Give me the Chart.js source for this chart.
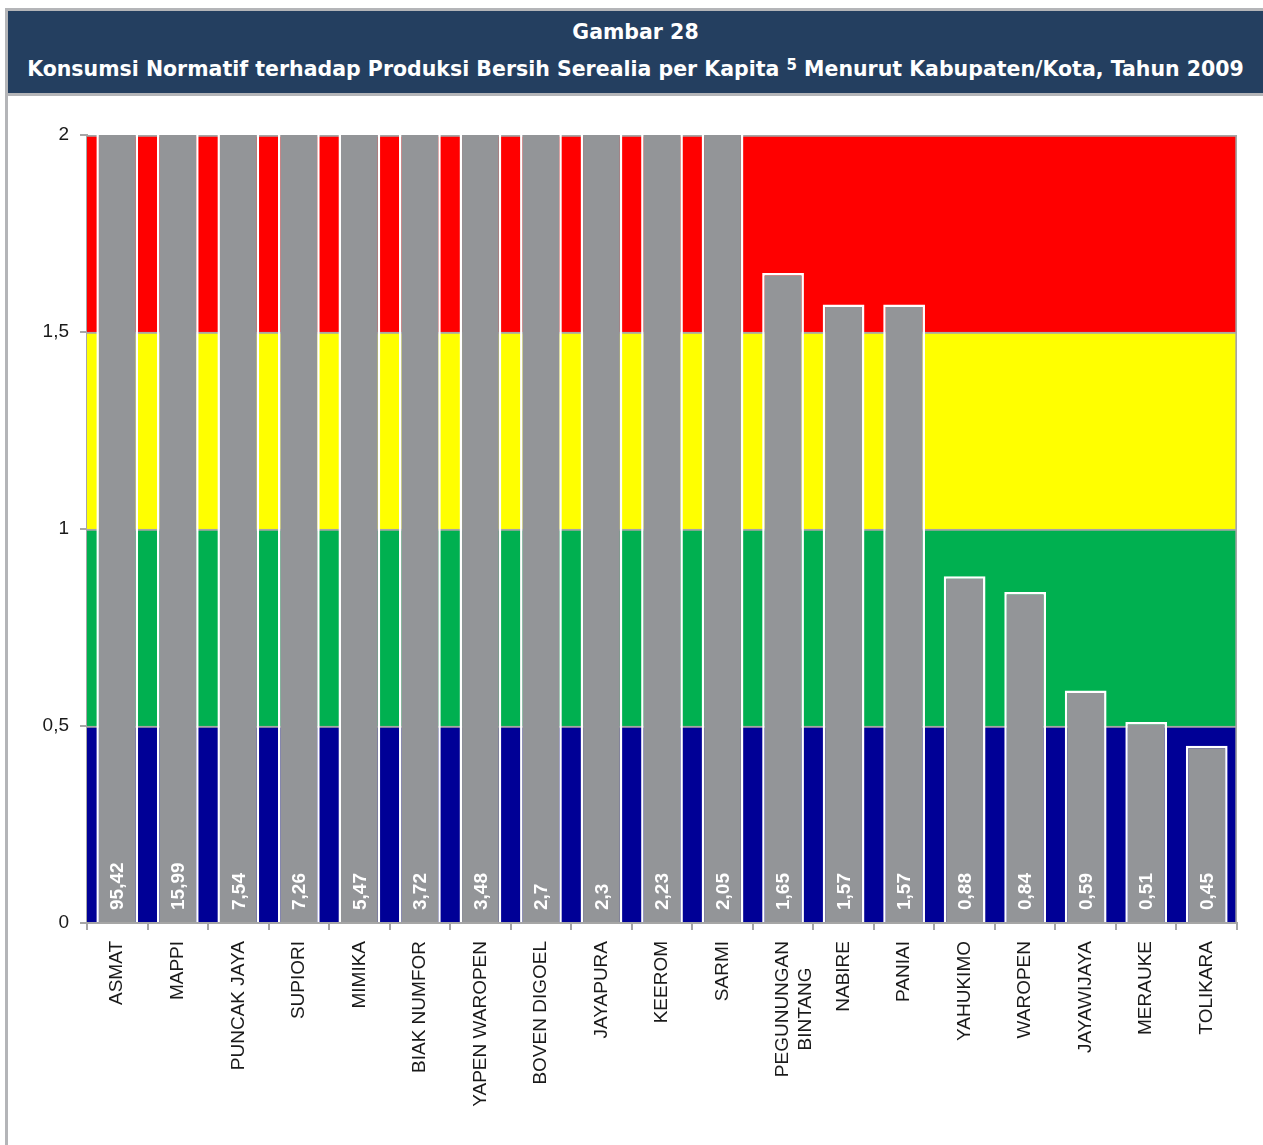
<!DOCTYPE html>
<html>
<head>
<meta charset="utf-8">
<script src="https://cdn.jsdelivr.net/npm/chart.js@4/dist/chart.umd.min.js"></script>
<style>
body { margin: 0; background: #fff; width: 1263px; height: 1145px; overflow: hidden; }
#frame { position: absolute; left: 5px; top: 8px; width: 1258px; height: 1137px;
  border-left: 3px solid #b4b5b8; border-top: 3px solid #b4b5b8; box-sizing: border-box; }
#head { position: absolute; left: 0; top: 0; width: 1255px; height: 82px; background: #243f60;
  border-bottom: 3px solid #b4b5b8; color: #fff; text-align: center;
  font-family: 'DejaVu Sans', sans-serif; font-weight: bold; font-size: 20.5px; }
#head div { position: absolute; left: 0; width: 100%; line-height: 24px; white-space: nowrap; }
#head sup { font-size: 15px; position: relative; top: -4px; vertical-align: top; }
#box { position: absolute; left: 0; top: 85px; width: 1255px; height: 1049px; }
</style>
</head>
<body>
<div id="frame">
  <div id="head">
    <div style="top:9px">Gambar 28</div>
    <div style="top:46px">Konsumsi Normatif terhadap Produksi Bersih Serealia per Kapita <sup>5</sup> Menurut Kabupaten/Kota, Tahun 2009</div>
  </div>
  <div id="box"><canvas id="chart" width="1255" height="1049"></canvas></div>
</div>
<script>
// kabupaten/kota, sorted from highest ratio down
// (trailing spaces keep the second line of the two-line name centred under the first)
const regions = ['ASMAT', 'MAPPI', 'PUNCAK JAYA', 'SUPIORI', 'MIMIKA', 'BIAK NUMFOR', 'YAPEN WAROPEN',
  'BOVEN DIGOEL', 'JAYAPURA', 'KEEROM', 'SARMI', ['PEGUNUNGAN', 'BINTANG     '], 'NABIRE', 'PANIAI',
  'YAHUKIMO', 'WAROPEN', 'JAYAWIJAYA', 'MERAUKE', 'TOLIKARA']
const ratio = [95.42, 15.99, 7.54, 7.26, 5.47, 3.72, 3.48, 2.7, 2.3, 2.23, 2.05, 1.65, 1.57, 1.57,
  0.88, 0.84, 0.59, 0.51, 0.45]

// background classes
const bandFrom = [0, 0.5, 1, 1.5]
const bandTo = [0.5, 1, 1.5, 2]
const bandColors = ['#000096', '#00b050', '#ffff00', '#ff0000']
const yTicks = [0, 0.5, 1, 1.5, 2]

const comma = v => String(v).replace('.', ',')

const datasets = [{
  data: ratio,
  xAxisID: 'x',
  grouped: false,
  backgroundColor: '#939598',
  borderColor: '#ffffff',
  borderWidth: 2.5,
  categoryPercentage: 1,
  barPercentage: 0.69,
  order: 0
}]
bandFrom.forEach((b, i) => {
  datasets.push({
    data: [[b, bandTo[i]]],
    xAxisID: 'band',
    grouped: false,
    backgroundColor: bandColors[i],
    borderColor: '#a6a6a6',
    borderWidth: { top: 2, right: 2, left: 0, bottom: 0 },
    borderSkipped: false,
    categoryPercentage: 1,
    barPercentage: 1,
    order: 1
  })
})

// value written upright inside the foot of each grey bar
const valueLabels = {
  id: 'valueLabels',
  afterDatasetsDraw(chart) {
    const ctx = chart.ctx
    const y0 = chart.scales.y.getPixelForValue(0)
    ctx.save()
    ctx.fillStyle = '#ffffff'
    ctx.font = 'bold 19px "Liberation Sans", Arial, sans-serif'
    ctx.textAlign = 'left'
    ctx.textBaseline = 'middle'
    chart.getDatasetMeta(0).data.forEach((bar, i) => {
      ctx.save()
      ctx.translate(bar.x + 1, y0 - 13)
      ctx.rotate(-Math.PI / 2)
      ctx.fillText(comma(ratio[i]), 0, 0)
      ctx.restore()
    })
    ctx.restore()
  }
}

new Chart(document.getElementById('chart'), {
  type: 'bar',
  data: { labels: regions, datasets: datasets },
  options: {
    responsive: false,
    animation: false,
    layout: { padding: { top: 39, right: 26, left: 0, bottom: 0 } },
    plugins: { legend: { display: false }, tooltip: { enabled: false } },
    scales: {
      x: {
        grid: { drawOnChartArea: false, tickLength: 7, color: '#a6a6a6', lineWidth: 2 },
        border: { color: '#a6a6a6', width: 2 },
        ticks: {
          minRotation: 90, maxRotation: 90, padding: 11, color: '#1a1a1a',
          font: { family: '"Liberation Sans", Arial, sans-serif', size: 19 }
        },
        afterFit(scale) { scale.height = 222 }
      },
      band: { type: 'category', labels: ['kelas'], display: false },
      y: {
        min: 0, max: 2,
        afterBuildTicks(scale) { scale.ticks = yTicks.map(v => ({ value: v })) },
        grid: { drawOnChartArea: false, tickLength: 7, color: '#a6a6a6', lineWidth: 2 },
        border: { color: '#a6a6a6', width: 2 },
        ticks: {
          padding: 11, color: '#1a1a1a', callback: v => comma(v),
          font: { family: '"Liberation Sans", Arial, sans-serif', size: 19 }
        },
        afterFit(scale) { scale.width = 79 }
      }
    }
  },
  plugins: [valueLabels]
})
</script>
</body>
</html>
